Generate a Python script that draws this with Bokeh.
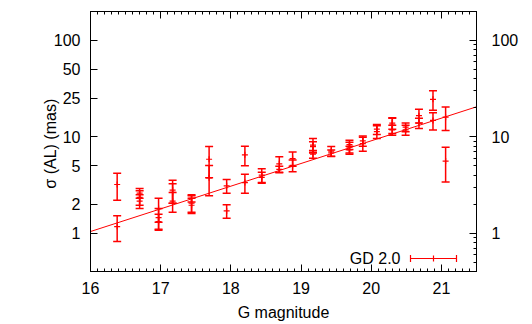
import numpy as np
from bokeh.plotting import figure
from bokeh.models import (ColumnDataSource, Whisker, TeeHead, FixedTicker,
                          LinearAxis, LogAxis, Label, Arrow, PrintfTickFormatter)
from bokeh.embed import file_html
from bokeh.resources import INLINE

# ---- data ----
gmag = [16.38, 16.38,
        16.70, 16.70, 16.70,
        16.97, 16.97, 16.97,
        17.17, 17.17, 17.17,
        17.44, 17.44, 17.44,
        17.69, 17.69,
        17.94, 17.94,
        18.20, 18.20,
        18.44, 18.44,
        18.69, 18.69,
        18.88, 18.88,
        19.17, 19.17, 19.17,
        19.43, 19.43,
        19.69, 19.69, 19.69,
        19.88, 19.88,
        20.08, 20.08,
        20.30, 20.30, 20.30,
        20.49, 20.49,
        20.68, 20.68,
        20.88, 20.88,
        21.06, 21.06]
sigma = [3.2, 1.17,
         2.6, 2.35, 2.15,
         1.8, 1.45, 1.32,
         2.8, 2.65, 2.15,
         2.3, 2.05, 1.95,
         5.85, 3.75,
         3.1, 1.7,
         6.5, 3.35,
         4.0, 3.8,
         5.25, 4.6,
         5.95, 5.05,
         8.2, 7.9, 6.6,
         7.1, 6.8,
         8.3, 7.8, 7.3,
         9.1, 8.5,
         12.0, 11.3,
         13.9, 13.2, 11.8,
         12.6, 11.8,
         16.6, 13.9,
         24.5, 14.8,
         16.0, 5.6]
sigma_err = [1.0, 0.35,
             0.3, 0.4, 0.35,
             0.5, 0.35, 0.25,
             0.75, 0.6, 0.5,
             0.2, 0.4, 0.35,
             2.1, 1.3,
             0.5, 0.27,
             1.5, 0.75,
             0.65, 0.5,
             0.95, 0.35,
             1.0, 0.7,
             1.4, 1.0, 0.6,
             0.85, 0.5,
             0.9, 1.0, 0.7,
             1.1, 1.4,
             1.4, 1.7,
             1.9, 2.4, 1.4,
             1.3, 1.4,
             2.7, 1.7,
             5.6, 3.0,
             4.4, 2.2]
fit_g = [16.0, 21.5]
fit_sigma = [1.04, 20.5]

left_ticks = [1, 2, 5, 10, 25, 50, 100]
right_ticks = [1, 10, 100]
x_ticks = [16, 17, 18, 19, 20, 21]
legend_label = "GD 2.0"
y_title = "σ  (AL) (mas)"
x_title = "G magnitude"

FONT = "Liberation Sans"
RED = "#ff0000"

src = ColumnDataSource(dict(
    x=gmag, y=sigma,
    lo=[s - e for s, e in zip(sigma, sigma_err)],
    hi=[s + e for s, e in zip(sigma, sigma_err)],
))

p = figure(width=532, height=324, x_range=(16, 21.5), y_range=(0.4, 200),
           y_axis_type="log", output_backend="svg", toolbar_location=None,
           min_border_left=90, min_border_right=56, min_border_top=11,
           min_border_bottom=53)
p.grid.visible = False
p.outline_line_color = "black"
p.outline_line_width = 1
p.background_fill_color = "white"
p.border_fill_color = "white"

# fit line
p.line(fit_g, fit_sigma, line_color=RED, line_width=1)

# error bars
wh = Whisker(source=src, base="x", lower="lo", upper="hi", dimension="height",
             line_color=RED, line_width=1.5,
             lower_head=TeeHead(size=8, line_color=RED, line_width=1.5),
             upper_head=TeeHead(size=8, line_color=RED, line_width=1.5))
p.add_layout(wh)
p.scatter("x", "y", source=src, marker="cross", size=6, line_color=RED,
          line_width=1.2)

minor_x = [round(v, 1) for v in np.arange(16.0, 21.51, 0.1)]
minor_y = []
for dec in [0.1, 1, 10, 100]:
    minor_y += [dec * k for k in range(2, 10)]


def style(ax):
    ax.axis_line_color = "black"
    ax.major_tick_line_color = "black"
    ax.minor_tick_line_color = "black"
    ax.major_tick_in = 7
    ax.major_tick_out = 0
    ax.minor_tick_in = 3
    ax.minor_tick_out = 0
    ax.major_label_text_font = FONT
    ax.major_label_text_font_size = "16px"
    ax.major_label_text_color = "black"
    ax.axis_label_text_font = FONT
    ax.axis_label_text_font_size = "16px"
    ax.axis_label_text_font_style = "normal"
    ax.axis_label_text_color = "black"


xa = p.xaxis[0]
xa.ticker = FixedTicker(ticks=x_ticks, minor_ticks=minor_x)
style(xa)
xa.axis_label = x_title
xa.major_label_standoff = 10
xa.axis_label_standoff = 7

ya = p.yaxis[0]
ya.ticker = FixedTicker(ticks=left_ticks, minor_ticks=[])
ya.formatter = PrintfTickFormatter(format="%d")
style(ya)
ya.axis_label = y_title
ya.major_label_standoff = 10
ya.axis_label_standoff = -8

top = LinearAxis(ticker=FixedTicker(ticks=x_ticks, minor_ticks=minor_x))
style(top)
top.major_label_overrides = {t: "" for t in x_ticks}
top.major_label_standoff = 0
p.add_layout(top, "above")

right = LogAxis(ticker=FixedTicker(ticks=right_ticks, minor_ticks=minor_y))
right.formatter = PrintfTickFormatter(format="%d")
style(right)
right.major_label_standoff = 15
p.add_layout(right, "right")

# legend (key drawn like gnuplot: text then sample); screen units are
# measured from the frame's bottom-left corner
p.add_layout(Label(x=310, y=13, x_units="screen", y_units="screen",
                   text=legend_label, text_align="right", text_baseline="middle",
                   text_font=FONT, text_font_size="16px", text_color="black"))
p.add_layout(Arrow(x_start=320, y_start=13, x_end=366, y_end=13,
                   start_units="screen", end_units="screen",
                   start=TeeHead(size=7, line_color=RED, line_width=1.2),
                   end=TeeHead(size=7, line_color=RED, line_width=1.2),
                   line_color=RED, line_width=1.2))
p.add_layout(Arrow(x_start=343, y_start=10, x_end=343, y_end=16,
                   start_units="screen", end_units="screen", end=None,
                   line_color=RED, line_width=1.2))

open("out.html", "w").write(file_html(p, INLINE))
